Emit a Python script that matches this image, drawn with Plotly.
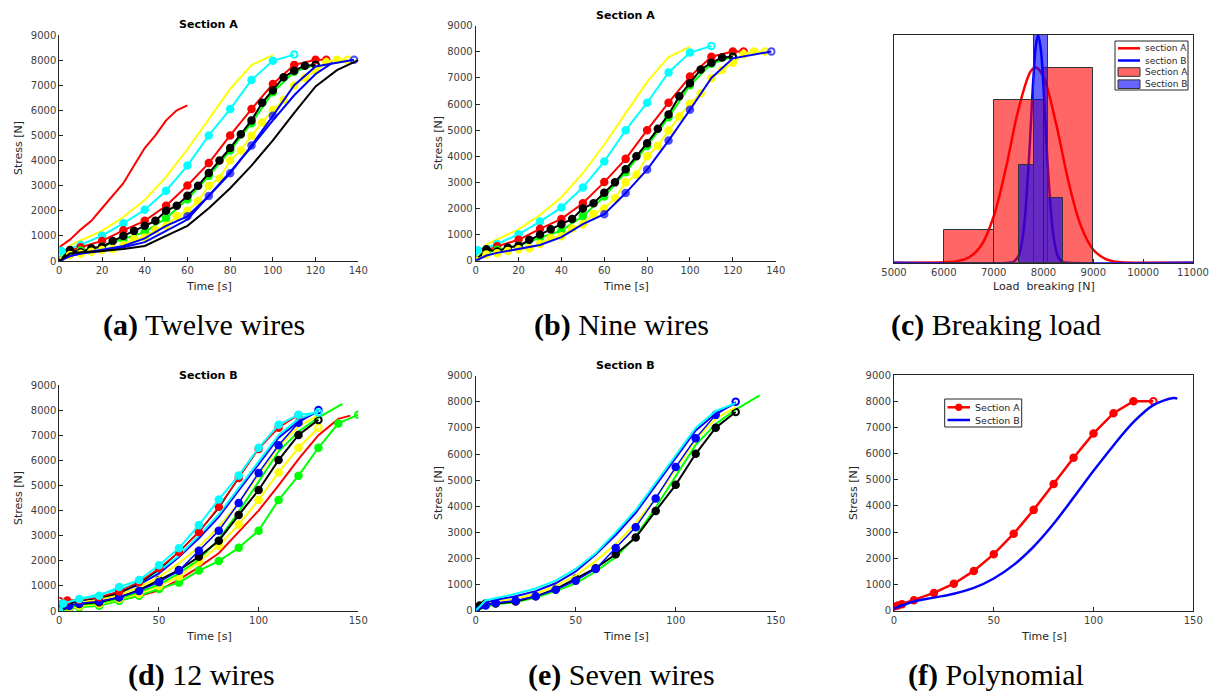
import plotly.graph_objects as go

# page body has an 8px default margin; the figure is laid out in window pixels
OFF = 8
W, H = 1217 - OFF, 700 - OFF

# ---------------- Section A wires (panels a, b) ----------------
a_red_t = [0, 5, 10, 15, 20, 25, 30, 35, 40, 45, 50, 55, 60]
a_red_s = [550, 850, 1250, 1600, 2100, 2600, 3100, 3800, 4500, 5000, 5600, 6000, 6200]
a_yel_t = [0, 5, 10, 20, 30, 40, 50, 60, 70, 80, 90, 100]
a_yel_s = [0, 620, 820, 1200, 1750, 2430, 3350, 4450, 5650, 6850, 7800, 8200]
a_cyan_t = [0, 1, 10, 20, 30, 40, 50, 60, 70, 80, 90, 100, 110]
a_cyan_s = [0, 400, 640, 1010, 1500, 2040, 2800, 3800, 5000, 6050, 7210, 7970, 8220]
a_redm_t = [0, 5, 10, 20, 30, 40, 50, 60, 70, 80, 90, 100, 110, 120, 125]
a_redm_s = [0, 400, 550, 800, 1220, 1600, 2200, 3010, 3900, 5000, 6050, 7050, 7810, 8010, 8010]
a_grn_t = [0, 5, 10, 20, 30, 40, 50, 60, 70, 80, 90, 100, 110, 120]
a_grn_s = [0, 300, 420, 570, 880, 1150, 1700, 2460, 3390, 4400, 5490, 6720, 7540, 7810]
a_blk_t = [0, 5, 10, 15, 20, 25, 30, 35, 40, 45, 50, 55, 60, 65, 70, 75, 80, 85, 90, 95,
           100, 105, 110, 115, 120]
a_blk_s = [0, 440, 350, 505, 570, 800, 1000, 1200, 1400, 1600, 2000, 2200, 2600, 3000, 3500,
           4000, 4500, 5050, 5600, 6300, 6800, 7320, 7580, 7780, 7810]
a_yelm_t = [0, 5, 10, 15, 20, 25, 30, 35, 40, 45, 50, 55, 60, 65, 70, 75, 80, 85, 90, 95,
            100, 105, 110, 115, 120, 125, 130, 135]
a_yelm_s = [0, 240, 290, 370, 440, 480, 640, 870, 940, 1230, 1400, 1790, 2000, 2390, 3000,
            3290, 4000, 4400, 4990, 5520, 6010, 6410, 6990, 7300, 7580, 7910, 8010, 8010]
a_blum_t = [0, 5, 10, 20, 30, 40, 50, 60, 70, 80, 90, 100, 110, 120, 138]
a_blum_s = [0, 200, 300, 450, 600, 900, 1400, 1780, 2590, 3490, 4600, 5780, 7000, 7750, 8010]
a_blum_marked = [0, 0, 0, 0, 0, 0, 0, 1, 1, 1, 1, 1, 0, 0, 1]
a_blu_t = [0, 5, 10, 20, 30, 40, 50, 60, 70, 80, 90, 100, 110, 120, 128]
a_blu_s = [0, 200, 300, 400, 550, 750, 1200, 1650, 2600, 3550, 4550, 5600, 6600, 7450, 7900]
a_blk2_t = [0, 5, 10, 20, 30, 40, 50, 60, 70, 80, 90, 100, 110, 120, 130, 140]
a_blk2_s = [0, 300, 350, 400, 480, 600, 1000, 1400, 2100, 2900, 3800, 4800, 5900, 6950, 7600, 8000]

# ---------------- Section B wires (panels d, e) ----------------
b_cyanm_t = [0, 2, 10, 20, 30, 40, 50, 60, 70, 80, 90, 100, 110, 120, 130]
b_cyanm_s = [0, 300, 480, 610, 960, 1230, 1820, 2500, 3420, 4440, 5400, 6500, 7420, 7820, 7900]
b_redm_t = [0, 4, 10, 20, 30, 40, 50, 60, 70, 80, 90, 100, 110, 120]
b_redm_s = [400, 420, 450, 550, 780, 1150, 1700, 2350, 3150, 4150, 5300, 6450, 7300, 7800]
b_blk_t = [0, 5, 10, 20, 30, 40, 50, 60, 70, 80, 90]
b_blk_s = [0, 300, 420, 520, 700, 1100, 1650, 2350, 3150, 4100, 5300]
b_cyan_t = [0, 5, 10, 20, 30, 40, 50, 60, 70, 80, 90, 100, 110, 120, 130]
b_cyan_s = [0, 400, 480, 650, 850, 1150, 1600, 2200, 3000, 3850, 4900, 5950, 7000, 7650, 7950]
b_blu_t = [0, 5, 10, 20, 30, 40, 50, 60, 70, 80, 90, 100, 110, 120, 130]
b_blu_s = [0, 300, 420, 550, 750, 1050, 1500, 2150, 2900, 3750, 4800, 5850, 6900, 7550, 7950]
b_blum_t = [0, 5, 10, 20, 30, 40, 50, 60, 70, 80, 90, 100, 110, 120, 130]
b_blum_s = [0, 200, 300, 380, 550, 800, 1150, 1600, 2400, 3200, 4300, 5500, 6600, 7500, 8000]
b_yel_t = [0, 5, 10, 20, 30, 40, 50, 60, 70, 80, 90, 100, 110, 120, 130]
b_yel_s = [0, 300, 380, 450, 650, 950, 1350, 1900, 2550, 3350, 4300, 5450, 6550, 7350, 7800]
b_blkm_t = [0, 2, 5, 10, 20, 30, 40, 50, 60, 70, 80, 90, 100, 110, 120, 130]
b_blkm_s = [0, 200, 280, 280, 350, 550, 830, 1230, 1630, 2160, 2800, 3820, 4820, 6010, 7010, 7610]
b_yelm_t = [0, 5, 10, 20, 30, 40, 50, 60, 70, 80, 90, 100, 110, 120, 130]
b_yelm_s = [0, 150, 200, 280, 480, 680, 1000, 1370, 1960, 2600, 3440, 4420, 5520, 6500, 7300]
b_red_t = [0, 10, 20, 30, 40, 50, 60, 70, 80, 90, 100, 110, 120, 130, 140, 146]
b_red_s = [350, 380, 400, 450, 600, 820, 1250, 1750, 2300, 3150, 4000, 5000, 6050, 7000, 7650, 7780]
b_grnm_t = [0, 5, 10, 20, 30, 40, 50, 60, 70, 80, 90, 100, 110, 120, 130, 140, 150]
b_grnm_s = [0, 100, 150, 210, 410, 610, 880, 1130, 1610, 1990, 2520, 3200, 4420, 5390, 6500,
            7470, 7820]
b_grn_t = [0, 5, 10, 20, 30, 40, 50, 60, 70, 80, 90, 100, 110, 120, 130, 142]
b_grn_s = [0, 150, 250, 320, 500, 750, 1050, 1500, 2050, 2850, 3950, 5150, 6350, 7150, 7700, 8250]

# ---------------- Breaking load (panel c) ----------------
hist_a_center = [6500, 7500, 8500]
hist_a_width = [1000, 1000, 1000]
hist_a_count = [1, 5, 6]
hist_b_center = [7650, 7950, 8250]
hist_b_width = [300, 300, 300]
hist_b_count = [3, 7, 2]
fit_a_x = [5000, 6000, 6250, 6500, 6750, 7000, 7250, 7500, 7750, 7850, 8000, 8250, 8500,
           8750, 9000, 9250, 9500, 10000, 11000]
fit_a_y = [0, 0.01, 0.04, 0.16, 0.53, 1.42, 2.94, 4.73, 5.9, 6.0, 5.71, 4.29, 2.5, 1.13,
           0.4, 0.11, 0.02, 0, 0]
fit_b_x = [5000, 7300, 7400, 7500, 7600, 7700, 7800, 7850, 7893, 7950, 8000, 8100, 8200,
           8300, 8400, 8500, 11000]
fit_b_y = [0, 0, 0.03, 0.21, 0.99, 2.99, 5.75, 6.71, 7.0, 6.5, 5.39, 2.63, 0.82, 0.16,
           0.02, 0, 0]
legend_c_labels = ["section A", "section B", "Section A", "Section B"]

# ---------------- Polynomial (panel f) ----------------
f_a_t = [0, 2, 4, 10, 20, 30, 40, 50, 60, 70, 80, 90, 100, 110, 120, 130]
f_a_s = [150, 200, 250, 400, 680, 1030, 1520, 2160, 2940, 3850, 4840, 5840, 6770, 7540, 8000, 8000]
f_b_t = [0, 10, 20, 30, 40, 50, 60, 70, 80, 90, 100, 110, 120, 130, 140, 142]
f_b_s = [80, 350, 500, 650, 870, 1230, 1750, 2450, 3320, 4320, 5340, 6310, 7200, 7850, 8120, 8100]
legend_f_labels = ["Section A", "Section B"]

RED, YEL, CYAN, GRN, BLK, BLU = "#ff0000", "#ffff00", "#00ffff", "#00ff00", "#000000", "#0000ff"
RED_FILL, BLU_FILL = "rgba(255,0,0,0.6)", "rgba(0,0,255,0.6)"
MS = 6.5

fig = go.Figure()


def line(t, s, color, ax, marker=False, width=2, open_first=False, shape="linear", name=None,
         marked=None):
    tr = dict(x=t, y=s, mode="lines+markers" if marker else "lines",
              line=dict(color=color, width=width, shape=shape), name=name,
              xaxis=ax[0], yaxis=ax[1], showlegend=False, hoverinfo="skip")
    if marker:
        sym = ["circle"] * len(t)
        sym[-1] = "circle-open"
        if open_first:
            sym[0] = "circle-open"
        size = MS if marked is None else [MS if m else 0 for m in marked]
        tr["marker"] = dict(symbol=sym, size=size, color=color, line=dict(color=color, width=2))
    fig.add_trace(go.Scatter(**tr))


# panel a (12 wires) and b (9 wires)
for ax, full in ((("x", "y"), True), (("x2", "y2"), False)):
    if full:
        line(a_red_t, a_red_s, RED, ax)
    line(a_yel_t, a_yel_s, YEL, ax)
    line(a_cyan_t, a_cyan_s, CYAN, ax, marker=True)
    line(a_redm_t, a_redm_s, RED, ax, marker=True)
    line(a_grn_t, a_grn_s, GRN, ax, marker=True)
    line(a_blk_t, a_blk_s, BLK, ax, marker=True)
    line(a_yelm_t, a_yelm_s, YEL, ax, marker=True, open_first=True)
    line(a_blum_t, a_blum_s, BLU, ax, marker=True, marked=a_blum_marked)
    if full:
        line(a_blu_t, a_blu_s, BLU, ax)
        line(a_blk2_t, a_blk2_s, BLK, ax)

# panel d (12 wires)
ax = ("x4", "y4")
line(b_red_t, b_red_s, RED, ax)
line(b_grnm_t, b_grnm_s, GRN, ax, marker=True)
line(b_yelm_t, b_yelm_s, YEL, ax, marker=True, open_first=True)
line(b_grn_t, b_grn_s, GRN, ax)
line(b_blkm_t, b_blkm_s, BLK, ax, marker=True, open_first=True)
line(b_yel_t, b_yel_s, YEL, ax)
line(b_blum_t, b_blum_s, BLU, ax, marker=True, width=1.5)
line(b_blu_t, b_blu_s, BLU, ax)
line(b_cyan_t, b_cyan_s, CYAN, ax)
line(b_blk_t, b_blk_s, BLK, ax, width=1.5)
line(b_redm_t, b_redm_s, RED, ax, marker=True, open_first=True, width=1.5)
line(b_cyanm_t, b_cyanm_s, CYAN, ax, marker=True)

# panel e (7 wires)
ax = ("x5", "y5")
line(b_grn_t, b_grn_s, GRN, ax)
line(b_blkm_t, b_blkm_s, BLK, ax, marker=True, open_first=True)
line(b_yel_t, b_yel_s, YEL, ax)
line(b_blum_t, b_blum_s, BLU, ax, marker=True, width=1.5)
line(b_blu_t, b_blu_s, BLU, ax)
line(b_cyan_t, b_cyan_s, CYAN, ax)

# panel c: fitted curves under semi-transparent histogram bars
line(fit_a_x, fit_a_y, RED, ("x3", "y3"), width=2.5, shape="spline", name=legend_c_labels[0])
line(fit_b_x, fit_b_y, BLU, ("x3", "y3"), width=2.5, shape="spline", name=legend_c_labels[1])
fig.add_trace(go.Bar(x=hist_a_center, y=hist_a_count, width=hist_a_width, name=legend_c_labels[2],
                     marker=dict(color=RED_FILL, line=dict(color="#333333", width=1)),
                     xaxis="x7", yaxis="y7", showlegend=False, hoverinfo="skip"))
fig.add_trace(go.Bar(x=hist_b_center, y=hist_b_count, width=hist_b_width, name=legend_c_labels[3],
                     marker=dict(color=BLU_FILL, line=dict(color="#333333", width=1)),
                     xaxis="x7", yaxis="y7", showlegend=False, hoverinfo="skip"))

# panel f
fig.add_trace(go.Scatter(x=f_a_t, y=f_a_s, mode="lines+markers", name=legend_f_labels[0],
                         line=dict(color=RED, width=2.5),
                         marker=dict(size=MS, color=RED,
                                     symbol=["circle-open"] + ["circle"] * (len(f_a_t) - 2) + ["circle-open"],
                                     line=dict(color=RED, width=2)),
                         xaxis="x6", yaxis="y6", showlegend=False, hoverinfo="skip"))
line(f_b_t, f_b_s, BLU, ("x6", "y6"), width=2.5, shape="spline", name=legend_f_labels[1])


def px(x):
    return (x - OFF) / W


def py(y):
    return 1 - (y - OFF) / H


AXC = "#262626"
TICKF = dict(family="DejaVu Sans", size=10, color="#404040")
base = dict(showgrid=False, zeroline=False, showline=True, linecolor=AXC, linewidth=1,
            ticks="inside", ticklen=4, tickcolor=AXC, tickwidth=1, tickfont=TICKF,
            tickformat="d")

panels = {
    # name: (left, right, top, bottom) in window pixels
    "1": (59.3, 358.3, 35, 261),
    "2": (475.7, 775.7, 25.7, 260.7),
    "3": (894, 1193, 35, 262.7),
    "4": (59.3, 358.3, 385, 611),
    "5": (475.7, 775.7, 375.7, 610.7),
    "6": (894, 1193.3, 375, 610.7),
}
lay = {}
for k, (l, r, t, b) in panels.items():
    xn = "xaxis" if k == "1" else "xaxis" + k
    yn = "yaxis" if k == "1" else "yaxis" + k
    yid = "y" if k == "1" else "y" + k
    xid = "x" if k == "1" else "x" + k
    box = k in ("3", "6")
    xa = dict(base, domain=[px(l), px(r)], anchor=yid, mirror=box)
    ya = dict(base, domain=[py(b), py(t)], anchor=xid, mirror=box)
    if k in ("1", "2"):
        xa.update(range=[0, 140], tickvals=[0, 20, 40, 60, 80, 100, 120, 140])
    elif k in ("4", "5", "6"):
        xa.update(range=[0, 150], tickvals=[0, 50, 100, 150])
    else:
        xa.update(range=[5000, 11000], tickvals=list(range(5000, 11001, 1000)))
    if k != "3":
        ya.update(range=[0, 9000], tickvals=list(range(0, 9001, 1000)))
    else:
        ya.update(range=[0, 7], showticklabels=False, ticks="")
    lay[xn] = xa
    lay[yn] = ya

# overlay axes for histogram bars in panel c
l, r, t, b = panels["3"]
lay["xaxis7"] = dict(domain=[px(l), px(r)], range=[5000, 11000], overlaying="x3",
                     visible=False, anchor="y7")
lay["yaxis7"] = dict(domain=[py(b), py(t)], range=[0, 7], overlaying="y3",
                     visible=False, anchor="x7")

ann = []
shapes = []
LAB = dict(family="DejaVu Sans", size=11, color="#262626")
TIT = dict(family="DejaVu Sans", size=11, color="#000000")
LEGC = dict(family="DejaVu Sans", size=9, color="#262626")
LEGF = dict(family="DejaVu Sans", size=9.5, color="#262626")


def text(x, y, s, font, angle=0, xanchor="center"):
    ann.append(dict(x=px(x), y=py(y), xref="paper", yref="paper", text=s, showarrow=False,
                    font=font, textangle=angle, xanchor=xanchor, yanchor="middle"))


def pshape(kind, x0, y0, x1, y1, **kw):
    shapes.append(dict(type=kind, xref="paper", yref="paper", x0=px(x0), x1=px(x1),
                       y0=py(y0), y1=py(y1), **kw))


# titles
text(208.8, 25, "<b>Section A</b>", TIT)
text(625.7, 15, "<b>Section A</b>", TIT)
text(208.8, 375, "<b>Section B</b>", TIT)
text(625.7, 365, "<b>Section B</b>", TIT)
# x labels
for (xc, yc, s) in [(208.8, 286, "Time [s]"), (625.7, 286, "Time [s]"),
                    (1043.5, 286, "Load  breaking [N]"),
                    (208.8, 636, "Time [s]"), (625.7, 636, "Time [s]"), (1043.5, 636, "Time [s]")]:
    text(xc, yc, s, LAB)
# y labels
for (xc, yc) in [(18, 148), (438, 143), (18, 498), (438, 493), (853, 493)]:
    text(xc, yc, "Stress [N]", LAB, angle=-90)
# captions
CAP = dict(family="Liberation Serif", size=30, color="#000000")
for (xc, yc, s) in [(204, 325, "<b>(a)</b> Twelve wires"), (621, 325, "<b>(b)</b> Nine wires"),
                    (996, 325, "<b>(c)</b> Breaking load"), (201, 675, "<b>(d)</b> 12 wires"),
                    (621, 675, "<b>(e)</b> Seven wires"), (996, 675, "<b>(f)</b> Polynomial")]:
    text(xc, yc, s, CAP)

# legend of panel c
pshape("rect", 1115, 41, 1188, 90, line=dict(color=AXC, width=1), fillcolor="white")
for i, (yc, lab) in enumerate(zip([48.3, 60.5, 72, 84.2], legend_c_labels)):
    if i < 2:
        pshape("line", 1118, yc, 1140, yc, line=dict(color=[RED, BLU][i], width=2.5))
    else:
        pshape("rect", 1118, yc - 4.3, 1140, yc + 4.3,
               line=dict(color="#333333", width=1), fillcolor=[RED_FILL, BLU_FILL][i - 2])
    text(1142.5, yc, lab, LEGC, xanchor="left")

# legend of panel f
pshape("rect", 944.7, 399, 1021.7, 427, line=dict(color=AXC, width=1), fillcolor="white")
pshape("line", 947.5, 407.3, 970, 407.3, line=dict(color=RED, width=2.5))
pshape("circle", 955.5, 404, 962, 410.6, line=dict(color=RED, width=1), fillcolor=RED)
pshape("line", 947.5, 420, 970, 420, line=dict(color=BLU, width=2.5))
text(972.5, 407.3, legend_f_labels[0], LEGF, xanchor="left")
text(972.5, 420, legend_f_labels[1], LEGF, xanchor="left")

fig.update_layout(
    width=W, height=H, autosize=False,
    margin=dict(l=0, r=0, t=0, b=0, autoexpand=False),
    paper_bgcolor="white", plot_bgcolor="white", barmode="overlay", bargap=0,
    annotations=ann, shapes=shapes, showlegend=False,
    **lay,
)

fig.write_html("out.html")
